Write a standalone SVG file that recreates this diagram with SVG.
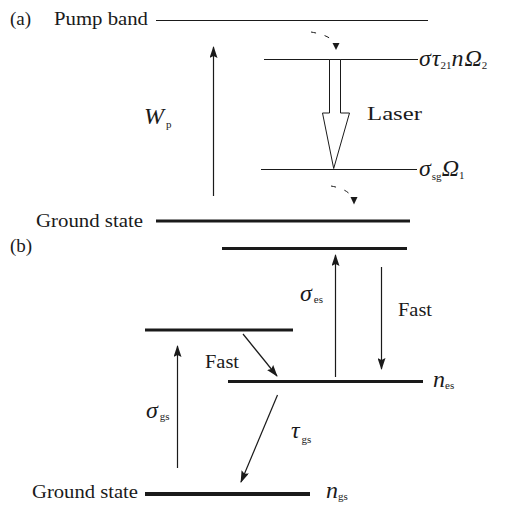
<svg xmlns="http://www.w3.org/2000/svg" width="508" height="506" viewBox="0 0 508 506" font-family="'Liberation Serif', 'DejaVu Serif', serif">
<style>
text{font-family:'Liberation Serif','DejaVu Serif','Times New Roman',serif;fill:#1a1a1a}
.lbl{font-size:19px}
.gk{font-size:24px;font-style:italic}
.sub{font-size:11px;font-style:normal}
.thin{stroke:#1a1a1a;stroke-width:1.2;fill:none}
.thick{stroke:#1a1a1a;stroke-width:3.2;fill:none}
.gnd{stroke:#1a1a1a;stroke-width:4;fill:none}
.arr{stroke:#1a1a1a;stroke-width:1.2;fill:none;marker-end:url(#ah)}
.dash{stroke:#1a1a1a;stroke-width:1;fill:none;stroke-dasharray:5 9;}
</style>
<defs>
<marker id="ah" viewBox="0 0 12 8" refX="11" refY="4" markerWidth="12" markerHeight="8" markerUnits="userSpaceOnUse" orient="auto">
<path d="M0,0 L12,4 L0,8 L2,4 Z" fill="#1a1a1a"/>
</marker>
</defs>

<!-- (a) -->
<g id="label-a"><text class="lbl" x="10" y="25">(a)</text></g>
<g id="pump-band">
<text class="lbl" x="54" y="25" textLength="94" lengthAdjust="spacingAndGlyphs">Pump band</text>
<line class="thin" x1="156" y1="20.5" x2="428" y2="20.5"/>
</g>
<g id="level-2">
<line class="thin" x1="264" y1="59.5" x2="418" y2="59.5"/>
<text class="gk" x="419" y="66">σ<tspan dx="1">τ</tspan><tspan class="sub" dy="3">21</tspan><tspan dy="-3">n</tspan><tspan dx="1">Ω</tspan><tspan class="sub" dy="3">2</tspan></text>
</g>
<g id="level-1">
<line class="thin" x1="261" y1="169.5" x2="417" y2="169.5"/>
<text class="gk" x="419" y="176">σ<tspan class="sub" dx="1" dy="4">sg</tspan><tspan dy="-4">Ω</tspan><tspan class="sub" dy="3">1</tspan></text>
</g>
<g id="ground-a">
<text class="lbl" x="36" y="227" textLength="107" lengthAdjust="spacingAndGlyphs">Ground state</text>
<line class="thick" x1="156" y1="221" x2="410" y2="221"/>
</g>
<g id="laser">
<polygon points="329.5,59.5 340.5,59.5 340.5,113 349.5,113 333.7,168.5 322.5,113 329.5,113" fill="#fff" stroke="#1a1a1a" stroke-width="1"/>
<text class="lbl" x="367" y="120" textLength="55" lengthAdjust="spacingAndGlyphs">Laser</text>
</g>
<g id="label-wp">
<text class="gk" x="144" y="124">W<tspan class="sub" dx="2" dy="4">p</tspan></text>
</g>

<!-- (b) -->
<g id="label-b"><text class="lbl" x="10" y="252">(b)</text></g>
<g id="level-es-upper"><line class="thick" x1="222" y1="248.5" x2="407" y2="248.5"/></g>
<g id="level-gs-upper"><line class="thick" x1="145" y1="330" x2="293" y2="330"/></g>
<g id="level-es">
<line class="thick" x1="228" y1="381.5" x2="423" y2="381.5"/>
<text class="gk" x="433" y="387">n<tspan class="sub" dy="2">es</tspan></text>
</g>
<g id="ground-b">
<text class="lbl" x="32" y="498" textLength="106" lengthAdjust="spacingAndGlyphs">Ground state</text>
<line class="gnd" x1="145" y1="494" x2="310" y2="494"/>
<text class="gk" x="326" y="498">n<tspan class="sub" dy="2">gs</tspan></text>
</g>
<g id="labels-b">
<text class="gk" x="300" y="301">σ<tspan class="sub" dx="2" dy="2">es</tspan></text>
<text class="lbl" x="398" y="316" textLength="34" lengthAdjust="spacingAndGlyphs">Fast</text>
<text class="lbl" x="205" y="368" textLength="34" lengthAdjust="spacingAndGlyphs">Fast</text>
<text class="gk" x="146" y="418">σ<tspan class="sub" dx="2" dy="2">gs</tspan></text>
<text class="gk" x="291" y="438">τ<tspan class="sub" dx="2" dy="5">gs</tspan></text>
</g>

<g id="connectors">
<line class="arr" x1="213.5" y1="196" x2="213.5" y2="47"/>
<path class="dash" d="M311,32 Q328,35 333,41"/>
<path d="M332.5,43 L339.5,43 L336,50 Z" fill="#1a1a1a"/>
<path class="dash" d="M331,186 Q347,189 351,196"/>
<path d="M350.5,197 L357.5,197 L354,204.5 Z" fill="#1a1a1a"/>
<line class="arr" x1="177.5" y1="468" x2="177.5" y2="346"/>
<line class="arr" x1="335.5" y1="377" x2="335.5" y2="255"/>
<line class="arr" x1="381.5" y1="267" x2="381.5" y2="369"/>
<line class="arr" x1="243" y1="334" x2="277" y2="376"/>
<line class="arr" x1="277.5" y1="395" x2="241" y2="482"/>
</g>
</svg>
